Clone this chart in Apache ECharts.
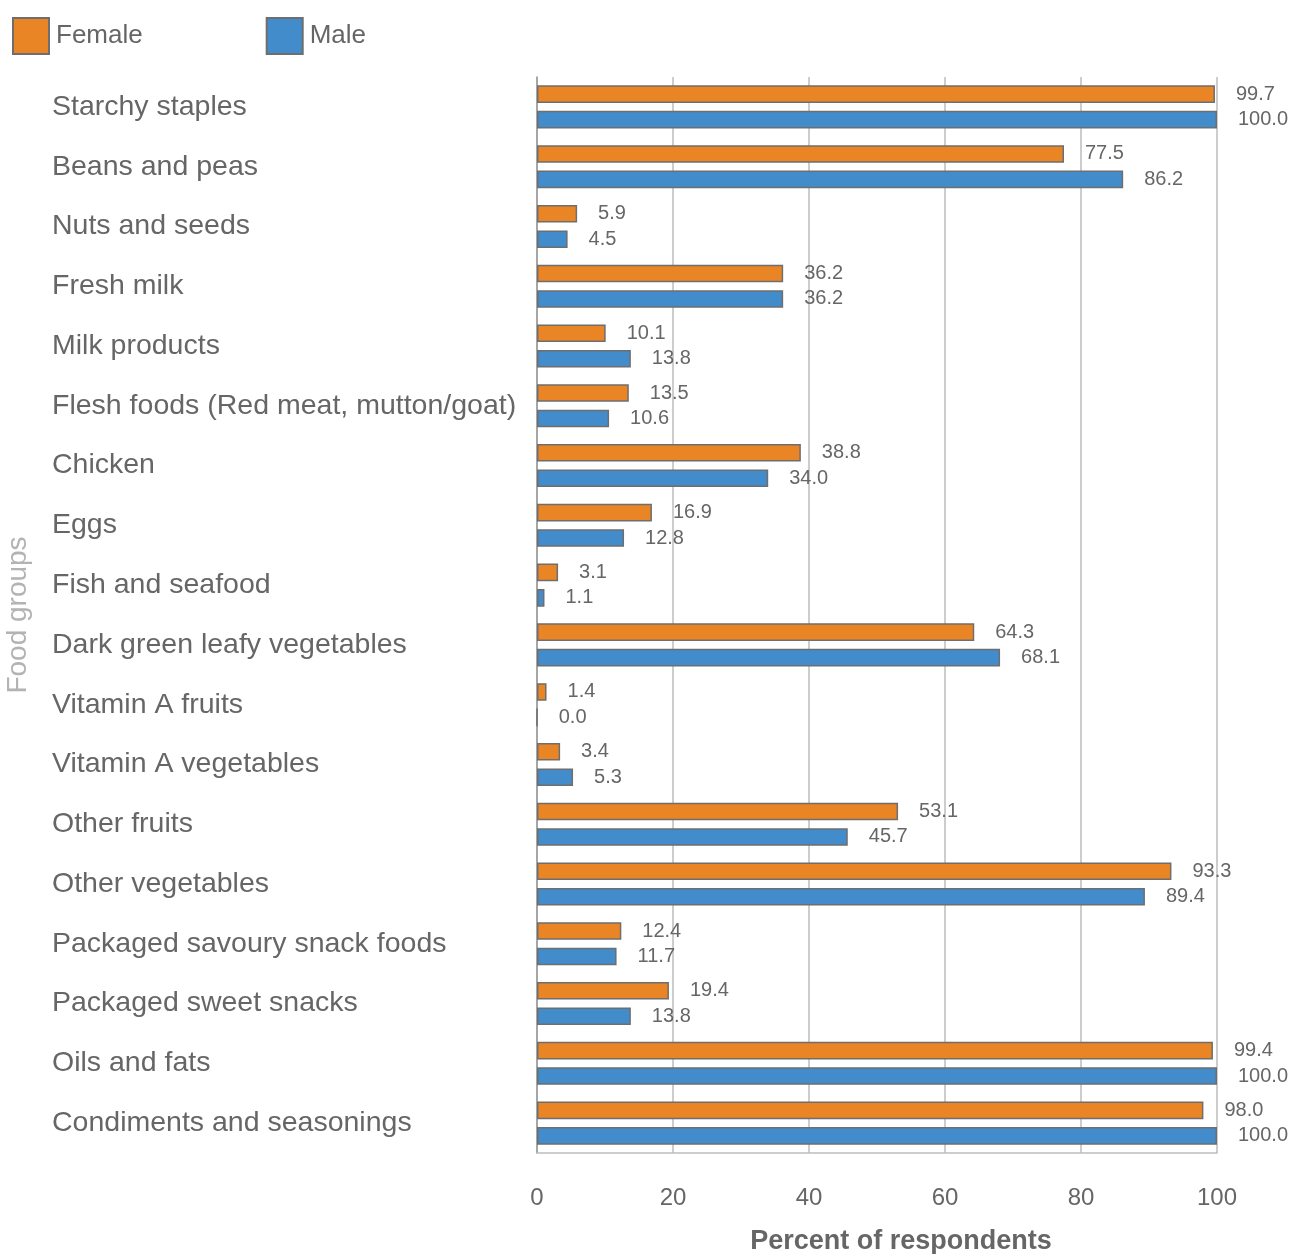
<!DOCTYPE html>
<html>
<head>
<meta charset="utf-8">
<script src="https://cdn.jsdelivr.net/npm/echarts@6/dist/echarts.min.js"></script>
<style>
  html, body { margin: 0; padding: 0; background: #fff; }
  #chart { width: 1304px; height: 1254px; }
</style>
</head>
<body>
<div id="chart"></div>
<script>
// Food groups consumed, by sex of respondent (percent)
const categories = [
  'Starchy staples', 'Beans and peas', 'Nuts and seeds', 'Fresh milk',
  'Milk products', 'Flesh foods (Red meat, mutton/goat)', 'Chicken', 'Eggs',
  'Fish and seafood', 'Dark green leafy vegetables', 'Vitamin A fruits',
  'Vitamin A vegetables', 'Other fruits', 'Other vegetables',
  'Packaged savoury snack foods', 'Packaged sweet snacks', 'Oils and fats',
  'Condiments and seasonings'
];
const female = [99.7, 77.5, 5.9, 36.2, 10.1, 13.5, 38.8, 16.9, 3.1, 64.3, 1.4, 3.4, 53.1, 93.3, 12.4, 19.4, 99.4, 98.0];
const male = [100.0, 86.2, 4.5, 36.2, 13.8, 10.6, 34.0, 12.8, 1.1, 68.1, 0.0, 5.3, 45.7, 89.4, 11.7, 13.8, 100.0, 100.0];
const xTicks = [0, 20, 40, 60, 80, 100];

const FONT = 'Liberation Sans, Helvetica, Arial, sans-serif';
const TEXT = '#666666';
const chart = echarts.init(document.getElementById('chart'));

const barLabel = {
  show: true,
  position: 'right',
  distance: 21,
  color: TEXT,
  fontFamily: FONT,
  fontSize: 20,
  formatter: p => p.value.toFixed(1)
};

chart.setOption({
  animation: false,
  textStyle: { fontFamily: FONT },
  legend: {
    left: 7,
    top: 12,
    itemWidth: 36,
    itemHeight: 36,
    itemGap: 123,
    icon: 'rect',
    textStyle: { fontSize: 26, color: TEXT, fontFamily: FONT, padding: [0, 0, 0, 2] },
    data: ['Female', 'Male']
  },
  grid: { left: 537, right: 87, top: 77, bottom: 101, containLabel: false, outerBoundsMode: 'none' },
  xAxis: {
    type: 'value',
    min: 0,
    max: 100,
    interval: 20,
    name: 'Percent of respondents',
    nameLocation: 'middle',
    nameGap: 75,
    nameTextStyle: { fontSize: 27, fontWeight: 'bold', color: TEXT, fontFamily: FONT, padding: [0, 0, 0, 48] },
    axisLine: { show: true, lineStyle: { color: '#bdbdbd', width: 1.5 } },
    axisTick: { show: false },
    axisLabel: {
      margin: 33,
      fontSize: 24,
      color: TEXT,
      fontFamily: FONT,
      formatter: v => xTicks.includes(v) ? String(v) : ''
    },
    splitLine: { show: true, lineStyle: { color: '#bdbdbd', width: 1.5 } }
  },
  yAxis: {
    type: 'category',
    inverse: true,
    data: categories,
    name: 'Food groups',
    nameLocation: 'middle',
    nameGap: 505,
    nameTextStyle: { fontSize: 28, color: '#b3b3b3', fontFamily: FONT },
    axisLine: { show: true, lineStyle: { color: '#9a9a9a', width: 1.5 } },
    axisTick: { show: false },
    axisLabel: {
      align: 'left',
      margin: 485,
      fontSize: 28.5,
      color: TEXT,
      fontFamily: FONT
    }
  },
  series: [
    {
      name: 'Female',
      type: 'bar',
      data: female,
      barGap: '45%',
      barCategoryGap: '28%',
      itemStyle: { color: '#EA8526', borderColor: '#6e6e6e', borderWidth: 1.5 },
      label: barLabel
    },
    {
      name: 'Male',
      type: 'bar',
      data: male,
      itemStyle: { color: '#438CCB', borderColor: '#6e6e6e', borderWidth: 1.5 },
      label: barLabel
    }
  ]
});
</script>
</body>
</html>
